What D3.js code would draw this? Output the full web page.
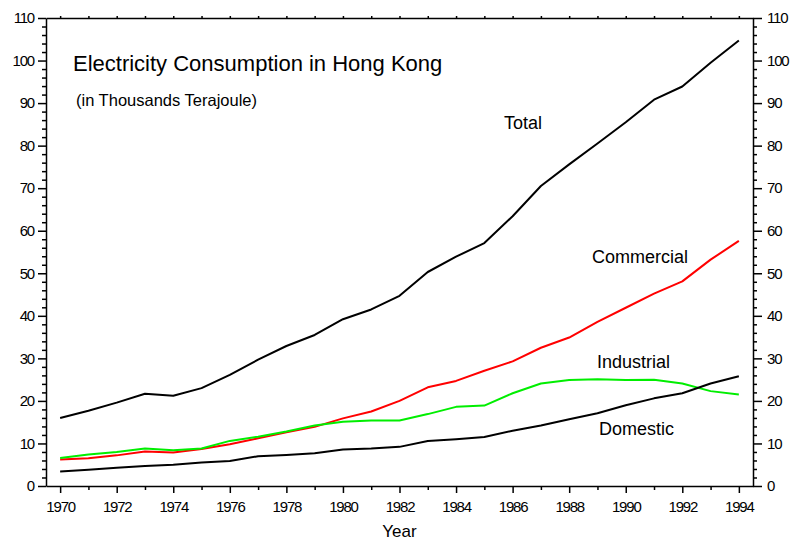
<!DOCTYPE html>
<html>
<head>
<meta charset="utf-8">
<script src="https://cdn.jsdelivr.net/npm/d3@7"></script>
<style>
  body { margin: 0; background: #fff; }
  svg { display: block; font-family: "Liberation Sans", Arial, sans-serif; }
  .axis path, .axis line { stroke: #000; stroke-width: 1.5; }
  .axis text { fill: #000; font-size: 15px; letter-spacing: -1.2px; font-family: "Liberation Sans", Arial, sans-serif; }
</style>
</head>
<body>
<script>
const years = d3.range(1970, 1995);
const total = [16.0, 17.7, 19.6, 21.7, 21.2, 23.0, 26.1, 29.7, 32.9, 35.5, 39.2, 41.5, 44.7,
               50.3, 53.9, 57.1, 63.4, 70.5, 75.6, 80.5, 85.5, 90.8, 93.9, 99.5, 104.7];
const commercial = [6.2, 6.5, 7.2, 8.1, 7.9, 8.7, 9.8, 11.2, 12.6, 13.9, 15.9, 17.5, 20.0,
                    23.2, 24.7, 27.1, 29.3, 32.5, 34.9, 38.6, 41.9, 45.2, 48.1, 53.2, 57.6];
const industrial = [6.6, 7.4, 8.0, 8.8, 8.4, 8.8, 10.6, 11.6, 12.8, 14.2, 15.1, 15.4, 15.4,
                    16.9, 18.6, 18.9, 21.8, 24.1, 24.9, 25.1, 24.9, 25.0, 24.1, 22.3, 21.5];
const domestic = [3.4, 3.8, 4.3, 4.7, 5.0, 5.5, 5.9, 7.0, 7.3, 7.7, 8.6, 8.8, 9.2,
                  10.6, 11.0, 11.5, 13.0, 14.2, 15.7, 17.1, 19.0, 20.6, 21.8, 24.1, 25.8];

const seriesList = [
  { name: "Total", values: total, color: "#000", lx: 504, ly: 129 },
  { name: "Commercial", values: commercial, color: "#ff0000", lx: 592, ly: 263 },
  { name: "Industrial", values: industrial, color: "#00ee00", lx: 597, ly: 368 },
  { name: "Domestic", values: domestic, color: "#000", lx: 599, ly: 435 }
];

const W = 791, H = 540;
const L = 46, R = 753, T = 18, B = 486;

const svg = d3.select("body").append("svg").attr("width", W).attr("height", H);

const x = d3.scaleLinear().domain([1969.5, 1994.5]).range([L, R]);
const y = d3.scaleLinear().domain([0, 110]).range([B, T]);

const majorY = d3.range(0, 111, 10);
const minorY = d3.range(0, 111, 2).filter(v => v % 10 !== 0);
const majorX = years.filter(v => v % 2 === 0);
const minorX = years.filter(v => v % 2 !== 0);

// left axis
svg.append("g").attr("class", "axis").attr("transform", `translate(${L},0)`)
  .call(d3.axisLeft(y).tickValues(majorY).tickSize(8).tickPadding(4).tickSizeOuter(0));
svg.append("g").attr("class", "axis").attr("transform", `translate(${L},0)`)
  .call(d3.axisLeft(y).tickValues(minorY).tickSize(4).tickFormat("").tickSizeOuter(0))
  .select(".domain").remove();

// right axis
svg.append("g").attr("class", "axis").attr("transform", `translate(${R},0)`)
  .call(d3.axisRight(y).tickValues(majorY).tickSize(9).tickPadding(5).tickSizeOuter(0));
svg.append("g").attr("class", "axis").attr("transform", `translate(${R},0)`)
  .call(d3.axisRight(y).tickValues(minorY).tickSize(4).tickFormat("").tickSizeOuter(0))
  .select(".domain").remove();

// bottom axis
svg.append("g").attr("class", "axis").attr("transform", `translate(0,${B})`)
  .call(d3.axisBottom(x).tickValues(majorX).tickFormat(d3.format("d")).tickSize(7).tickPadding(8).tickSizeOuter(0));
svg.append("g").attr("class", "axis").attr("transform", `translate(0,${B})`)
  .call(d3.axisBottom(x).tickValues(minorX).tickFormat("").tickSize(4).tickSizeOuter(0))
  .select(".domain").remove();

// top axis
svg.append("g").attr("class", "axis").attr("transform", `translate(0,${T})`)
  .call(d3.axisTop(x).tickValues(years).tickFormat("").tickSize(2).tickSizeOuter(0));

// lines
const line = d3.line().x((d, i) => x(years[i])).y(d => y(d));
seriesList.forEach(s => {
  svg.append("path")
    .datum(s.values)
    .attr("fill", "none")
    .attr("stroke", s.color)
    .attr("stroke-width", 2)
    .attr("stroke-linejoin", "round")
    .attr("d", line);
  svg.append("text")
    .attr("x", s.lx).attr("y", s.ly)
    .attr("font-size", 18)
    .text(s.name);
});

svg.append("text")
  .attr("x", 73).attr("y", 71)
  .attr("font-size", 22)
  .text("Electricity Consumption in Hong Kong");

svg.append("text")
  .attr("x", 76).attr("y", 106)
  .attr("font-size", 16.5)
  .text("(in Thousands Terajoule)");

svg.append("text")
  .attr("x", (L + R) / 2).attr("y", 537)
  .attr("text-anchor", "middle")
  .attr("font-size", 17)
  .text("Year");
</script>
</body>
</html>
